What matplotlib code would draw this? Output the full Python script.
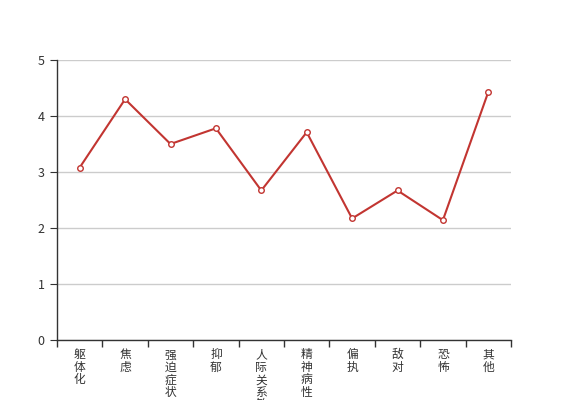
import matplotlib
matplotlib.use("Agg")
import matplotlib.pyplot as plt
import numpy as np

plt.rcParams['font.family'] = ['Noto Sans CJK SC', 'DejaVu Sans']

# categories and scores
categories = ['躯体化', '焦虑', '强迫症状', '抑郁', '人际关系敏感',
              '精神病性', '偏执', '敌对', '恐怖', '其他']
scores = [3.08, 4.30, 3.50, 3.78, 2.67, 3.71, 2.17, 2.67, 2.14, 4.43]
y_ticks = [0, 1, 2, 3, 4, 5]

fig = plt.figure(figsize=(5.67, 4.0), dpi=100)
ax = fig.add_axes([57 / 567, 60 / 400, 454 / 567, 280 / 400])

x = np.arange(len(categories))
ax.plot(x, scores, color='#c23531', linewidth=1.5, zorder=3,
        marker='o', markersize=4, markerfacecolor='white',
        markeredgecolor='#c23531', markeredgewidth=1)

ax.set_xlim(-0.5, len(categories) - 0.5)
ax.set_ylim(0, 5)

# ticks at band edges, labels at band centers (vertical, one char per line)
ax.set_xticks(np.arange(-0.5, len(categories), 1.0))
ax.set_xticklabels([])
ax.set_xticks(x, minor=True)
ax.set_xticklabels(['\n'.join(c) for c in categories], minor=True,
                   fontsize=8.5, color='#333333', linespacing=0.95, va='top')
ax.tick_params(axis='x', which='major', direction='out', length=5,
               color='#333333', width=1)
ax.tick_params(axis='x', which='minor', length=0, pad=6)

ax.set_yticks(y_ticks)
ax.tick_params(axis='y', direction='out', length=5, color='#333333',
               labelsize=9, labelcolor='#333333', pad=4)

ax.grid(axis='y', color='#cccccc', linewidth=1)
ax.set_axisbelow(True)
for side in ['top', 'right']:
    ax.spines[side].set_visible(False)
for side in ['left', 'bottom']:
    ax.spines[side].set_color('#333333')
    ax.spines[side].set_linewidth(1)

fig.savefig('out.png', dpi=100)
